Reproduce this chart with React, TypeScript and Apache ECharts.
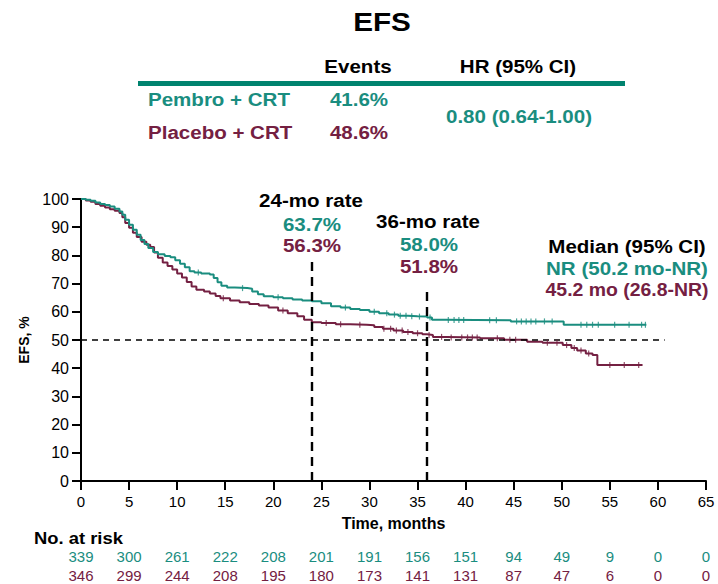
import React, { useEffect, useRef } from "react";
import * as echarts from "echarts";

const TEAL = "#1a8d7f";
const MAROON = "#742042";
const LINE_TEAL = "#00836f";

const xTicks = [0, 5, 10, 15, 20, 25, 30, 35, 40, 45, 50, 55, 60, 65];
const yTicks = [0, 10, 20, 30, 40, 50, 60, 70, 80, 90, 100];
const riskPembro = [339, 300, 261, 222, 208, 201, 191, 156, 151, 94, 49, 9, 0, 0];
const riskPlacebo = [346, 299, 244, 208, 195, 180, 173, 141, 131, 87, 47, 6, 0, 0];

// Kaplan-Meier steps [time (months), EFS %]
const pembroKM: [number, number][] = [
  [0, 100], [0.5, 99.7], [1, 99.4], [1.5, 98.8], [2, 98.2], [2.5, 97.9], [3, 97.3], [3.5, 96.5],
  [4, 95.6], [4.3, 94.4], [4.6, 92.6], [5, 90.9], [5.4, 89.1], [5.8, 87.3], [6.2, 85.5], [6.6, 84],
  [7, 82.6], [7.5, 81.2], [8, 80.4], [8.7, 79.8], [9.3, 79.3], [9.8, 78.3], [10.3, 77], [10.8, 75.8],
  [11.3, 74.4], [11.8, 73.9], [12.5, 73.6], [13.4, 73.2], [13.8, 72], [14.2, 70.5], [14.6, 69.2],
  [15.2, 68.6], [16, 68.4], [17.3, 68.2], [17.8, 67.2], [18.4, 66.2], [19, 65.5], [20, 65.2],
  [21, 64.8], [22, 64.4], [23, 64], [24, 63.7], [25, 63], [26, 62], [27, 61.5], [28, 61],
  [29, 60.6], [30, 60], [31, 59.5], [32, 59], [33, 58.6], [34, 58.4], [35, 58.3], [36, 58.0],
  [36.5, 57.2], [38, 57.1], [41, 57.0], [44.7, 56.6], [50.2, 55.4], [58.8, 55.4],
];
const placeboKM: [number, number][] = [
  [0, 100], [0.5, 99.5], [1, 99], [1.5, 98.2], [2, 97.6], [2.5, 97], [3, 96.4], [3.5, 95.8],
  [4, 95], [4.3, 93.5], [4.6, 91.5], [5, 89.8], [5.4, 88], [5.8, 86.5], [6.3, 84.8], [6.8, 83.8],
  [7.2, 83], [7.6, 81], [8, 79.2], [8.5, 77.5], [9, 76.2], [9.5, 75], [10, 73.6], [10.5, 72.2],
  [11, 70.6], [11.5, 69], [12, 67.8], [12.8, 67.2], [13.4, 66.5], [14, 65.6], [14.5, 64.8],
  [15.5, 64], [16.5, 63.4], [17.5, 62.8], [18.5, 62.2], [19.5, 61.5], [20.5, 60.5], [21.5, 59.5],
  [22.5, 58.4], [23.2, 57.2], [24, 56.3], [25, 56], [26.5, 55.6], [28, 55.4], [29.7, 55.2],
  [30.5, 54.6], [31.4, 54], [32.5, 53.4], [33.5, 52.8], [34.5, 52.4], [35.5, 52], [36, 51.8],
  [36.6, 51.1], [38, 50.9], [41.5, 50.6], [44, 50.1], [46.4, 49.4], [48, 49], [50.1, 48.2],
  [51, 47.2], [51.6, 46.3], [52.5, 45.2], [53.2, 44.7], [53.7, 41.1], [58.4, 41.1],
];

// censor mark times
const pembroCensor = [12.2, 16.8, 20.5, 27.5, 30.5, 31.8, 32.6, 33.2, 33.8, 34.4, 35.2, 36.3, 38.2, 38.8, 39.3, 39.8, 42.5, 43.2, 45.3, 45.8, 46.3, 46.8, 47.3, 48.2, 49, 52, 52.6, 53.2, 53.8, 55.5, 57, 58.3, 58.7];
const placeboCensor = [14.8, 21, 25.5, 27, 29, 31.5, 32.2, 32.8, 33.4, 34, 35, 36.2, 37.5, 38.5, 39.6, 40.2, 40.7, 41.2, 43.3, 44.6, 45.2, 48.5, 49.5, 50.5, 51.3, 52, 52.8, 55, 56.5, 58];

const stepValue = (km: [number, number][], t: number) => {
  let v = km[0][1];
  for (const [x, y] of km) {
    if (x <= t) v = y;
    else break;
  }
  return v;
};

export default function App() {
  const ref = useRef<HTMLDivElement>(null);
  useEffect(() => {
    document.body.style.margin = "0";
    const chart = echarts.init(ref.current!, undefined, { renderer: "svg" });
    const sans = "'Liberation Sans', Arial, sans-serif";
    const riskAxis = (arr: number[], color: string, offset: number) => ({
      type: "value",
      min: 0,
      max: 65,
      interval: 5,
      position: "bottom",
      offset,
      axisLine: { show: false },
      axisTick: { show: false },
      splitLine: { show: false },
      axisLabel: {
        color,
        fontFamily: sans,
        fontSize: 15,
        margin: 0,
        formatter: (v: number) => String(arr[Math.round(v / 5)]),
      },
    });
    const txt = (x: number, y: number, text: string, color: string, size: number, align = "center", sx = 1.11) => ({
      type: "text",
      x,
      y,
      scaleX: sx,
      style: {
        text,
        fill: color,
        font: `bold ${size}px ${sans}`,
        align,
        verticalAlign: "middle",
      },
    });
    chart.setOption({
      animation: false,
      backgroundColor: "#ffffff",
      grid: { left: 81, right: 12, top: 199, bottom: 103, containLabel: false, outerBoundsMode: "none" },
      xAxis: [
        {
          type: "value",
          min: 0,
          max: 65,
          interval: 5,
          name: "Time, months",
          nameLocation: "middle",
          nameGap: 34,
          nameTextStyle: { fontFamily: sans, fontWeight: "bold", fontSize: 16, color: "#000" },
          axisLine: { show: true, lineStyle: { color: "#000", width: 2 } },
          axisTick: { show: true, length: 9, lineStyle: { color: "#000", width: 2 } },
          splitLine: { show: false },
          axisLabel: { fontFamily: sans, fontSize: 15, color: "#000", margin: 13 },
        },
        riskAxis(riskPembro, TEAL, 68),
        riskAxis(riskPlacebo, MAROON, 87),
      ],
      yAxis: {
        type: "value",
        min: 0,
        max: 100,
        interval: 10,
        name: "EFS, %",
        nameLocation: "middle",
        nameGap: 45,
        nameTextStyle: { fontFamily: sans, fontWeight: "bold", fontSize: 14, color: "#000" },
        axisLine: { show: true, lineStyle: { color: "#000", width: 2 } },
        axisTick: { show: true, length: 9, lineStyle: { color: "#000", width: 2 } },
        splitLine: { show: false },
        axisLabel: { fontFamily: sans, fontSize: 16, color: "#000", margin: 12 },
      },
      graphic: [
        txt(382, 22, "EFS", "#000", 26.5, "center", 1.12),
        txt(358, 66, "Events", "#000", 18.5),
        txt(518, 66, "HR (95% CI)", "#000", 18.5),
        {
          type: "line",
          shape: { x1: 138, y1: 83.5, x2: 625, y2: 83.5 },
          style: { stroke: LINE_TEAL, lineWidth: 5 },
        },
        txt(148, 99, "Pembro + CRT", TEAL, 18.5, "left"),
        txt(359, 99, "41.6%", TEAL, 18.5),
        txt(148, 132, "Placebo + CRT", MAROON, 18.5, "left"),
        txt(359, 132, "48.6%", MAROON, 18.5),
        txt(519, 116, "0.80 (0.64-1.00)", TEAL, 18.5),
        txt(311, 200, "24-mo rate", "#000", 18.5),
        txt(312, 224, "63.7%", TEAL, 18.5),
        txt(312, 245, "56.3%", MAROON, 18.5),
        txt(428, 221, "36-mo rate", "#000", 18.5),
        txt(429, 244, "58.0%", TEAL, 18.5),
        txt(429, 266, "51.8%", MAROON, 18.5),
        txt(627, 246, "Median (95% CI)", "#000", 18.5),
        txt(627, 268, "NR (50.2 mo-NR)", TEAL, 18.5),
        txt(627, 290, "45.2 mo (26.8-NR)", MAROON, 18.5, "center", 1.05),
        txt(34, 538, "No. at risk", "#000", 16, "left", 1.15),
      ],
      series: [
        {
          type: "line",
          name: "Placebo + CRT",
          data: placeboKM,
          step: "end",
          showSymbol: false,
          lineStyle: { color: MAROON, width: 2 },
          z: 3,
          markLine: {
            silent: true,
            symbol: "none",
            label: { show: false },
            lineStyle: { color: "#000", type: [6, 5], width: 1.6 },
            data: [
              [{ coord: [0, 50] }, { coord: [60.7, 50] }],
            ],
          },
        },
        {
          type: "line",
          name: "Pembro + CRT",
          data: pembroKM,
          step: "end",
          showSymbol: false,
          lineStyle: { color: TEAL, width: 2 },
          z: 4,
          markLine: {
            silent: true,
            symbol: "none",
            label: { show: false },
            lineStyle: { color: "#000", type: [9, 6], width: 2.4 },
            data: [
              [{ coord: [24, 0] }, { coord: [24, 77.7] }],
              [{ coord: [36, 0] }, { coord: [36, 67.7] }],
            ],
          },
        },
        {
          type: "scatter",
          data: placeboCensor.map((t) => [t, stepValue(placeboKM, t)]),
          symbol: "rect",
          symbolSize: [1.2, 6],
          itemStyle: { color: MAROON },
          z: 5,
        },
        {
          type: "scatter",
          data: pembroCensor.map((t) => [t, stepValue(pembroKM, t)]),
          symbol: "rect",
          symbolSize: [1.2, 6],
          itemStyle: { color: TEAL },
          z: 5,
        },
      ],
    });
    return () => chart.dispose();
  }, []);
  return <div ref={ref} style={{ width: 718, height: 584 }} />;
}
